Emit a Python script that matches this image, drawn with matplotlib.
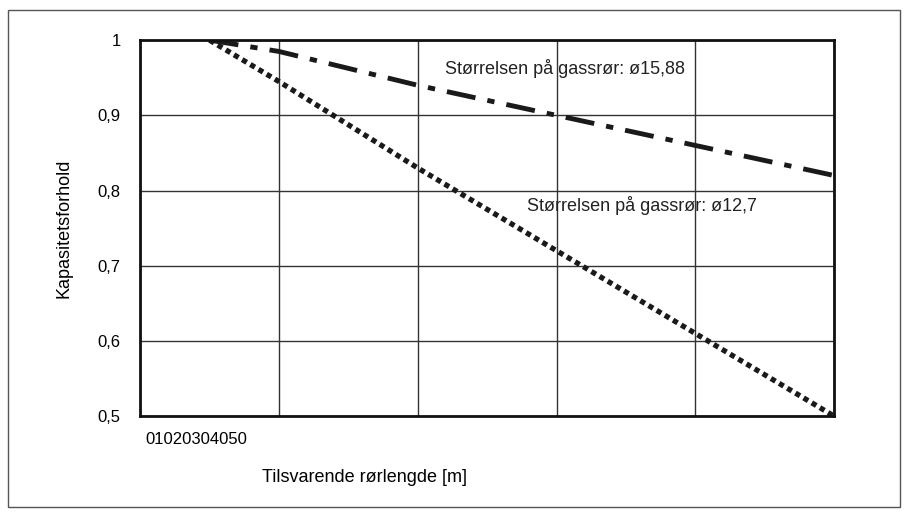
import matplotlib.pyplot as plt
from matplotlib.patches import Rectangle

# data
x_pts = [5, 10, 20, 30, 40, 50]
ratio_1588 = [1.0, 0.985, 0.94, 0.90, 0.86, 0.82]
ratio_127 = [1.0, 0.945, 0.83, 0.72, 0.61, 0.50]
y_ticks = [0.5, 0.6, 0.7, 0.8, 0.9, 1.0]
y_labels = ['0,5', '0,6', '0,7', '0,8', '0,9', '1']

plt.rcParams['font.family'] = ['Liberation Sans', 'DejaVu Sans']

fig = plt.figure(figsize=(9.1, 5.15), dpi=100)
ax = fig.add_axes([0.154, 0.192, 0.7626, 0.730])

ax.plot(x_pts, ratio_1588, color='#1a1a1a', linewidth=3.5, dashes=(6, 2.5, 1.5, 2.5))
ax.plot(x_pts, ratio_127, color='#1a1a1a', linewidth=3.8, dashes=(1.0, 0.8))

ax.set_xlim(0, 50)
ax.set_ylim(0.5, 1.0)
ax.set_xticks([0, 10, 20, 30, 40, 50])
ax.set_xticklabels([])
ax.set_yticks(y_ticks)
ax.set_yticklabels(y_labels, fontsize=12)
ax.tick_params(length=0, pad=14)
ax.grid(True, color='#333333', linewidth=1)
for s in ax.spines.values():
    s.set_linewidth(2)
    s.set_color('#111111')

ax.text(22.0, 0.955, 'Størrelsen på gassrør: ø15,88', fontsize=13, color='#222222')
ax.text(27.9, 0.773, 'Størrelsen på gassrør: ø12,7', fontsize=13, color='#222222')

fig.text(145 / 910, 1 - 440 / 515, '01020304050', fontsize=12, va='center')
ax.set_ylabel('Kapasitetsforhold', fontsize=13, labelpad=18)
fig.text(365 / 910, 1 - 478 / 515, 'Tilsvarende rørlengde [m]', fontsize=13, ha='center', va='center')

fig.patches.append(Rectangle((8 / 910, 8 / 515), 892 / 910, 497 / 515, transform=fig.transFigure,
                             fill=False, edgecolor='#555555', linewidth=1))

fig.savefig('out.png', dpi=100)
